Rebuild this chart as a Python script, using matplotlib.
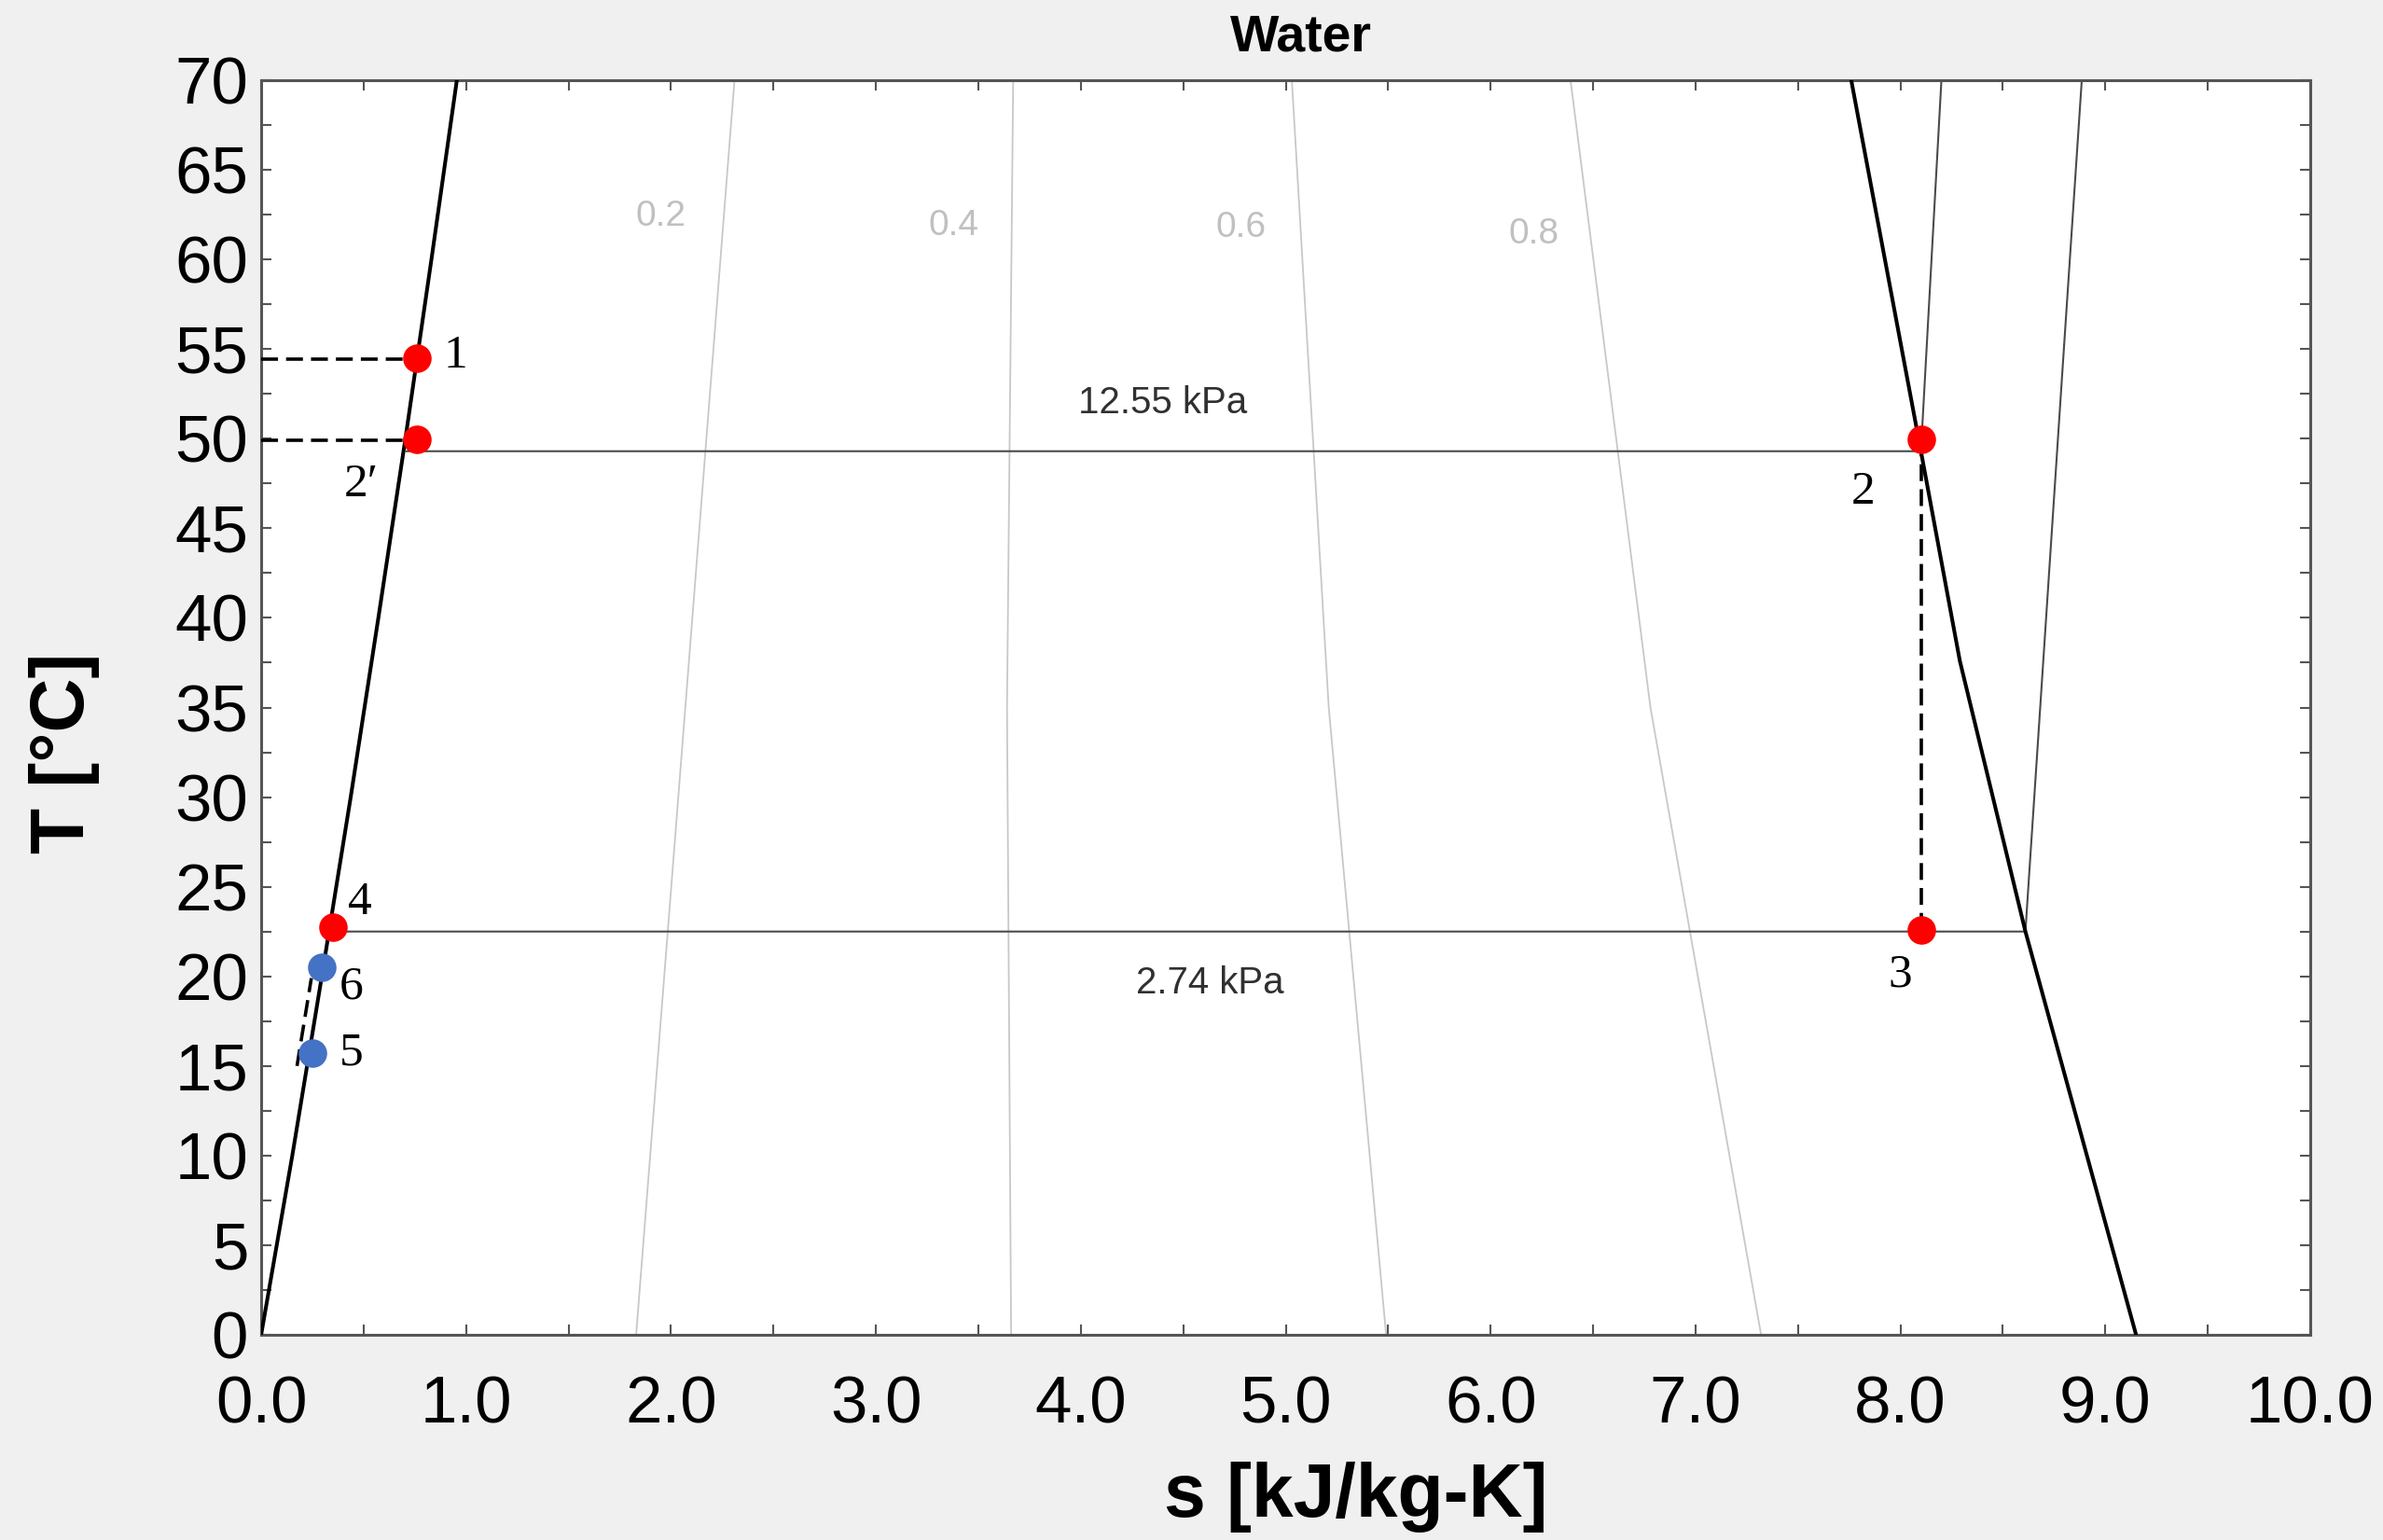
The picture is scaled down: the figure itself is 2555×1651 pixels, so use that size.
import numpy as np
import matplotlib
matplotlib.use("Agg")
import matplotlib.pyplot as plt
from matplotlib.ticker import MultipleLocator, FormatStrFormatter

plt.rcParams['font.family'] = ['Liberation Sans', 'DejaVu Sans']

# saturation dome
liq_T = [0, 10, 20, 30, 40, 50, 60, 70]
liq_s = [0.0, 0.152, 0.296, 0.437, 0.572, 0.704, 0.831, 0.955]
vap_T = [0, 22.5, 37.6, 49.3, 70]
vap_s = [9.15, 8.61, 8.29, 8.10, 7.76]

# isobars
hi_p_s = [0.71, 8.10, 8.20]
hi_p_T = [49.3, 49.3, 70]
lo_p_s = [0.33, 8.61, 8.63, 8.67, 8.79, 8.885]
lo_p_T = [22.5, 22.5, 26, 32.9, 53.7, 70]

# constant quality lines, at T = 0, 35, 70
qual_T = [0, 35, 70]
qual_lines = {
    '0.2': [1.83, 2.07, 2.31],
    '0.4': [3.66, 3.64, 3.67],
    '0.6': [5.49, 5.21, 5.03],
    '0.8': [7.32, 6.78, 6.39],
}
qual_label_pos = {'0.2': (1.95, 62.4), '0.4': (3.38, 61.9), '0.6': (4.78, 61.8), '0.8': (6.21, 61.4)}

# state points
pt_names = ['1', '2\u2032', '2', '3', '4', '5', '6']
pt_s = [0.758, 0.758, 8.10, 8.10, 0.352, 0.250, 0.296]
pt_T = [54.5, 49.95, 49.95, 22.6, 22.75, 15.7, 20.5]
pt_color = ['#ff0000'] * 5 + ['#4472c4'] * 2
lbl_s = [0.95, 0.49, 7.82, 8.00, 0.48, 0.44, 0.44]
lbl_T = [54.6, 47.4, 47.0, 20.1, 24.1, 15.7, 19.4]

# dashed helper lines
dash_lines = [
    ([0, 0.758], [54.45, 54.45]),
    ([0, 0.758], [49.9, 49.9]),
    ([8.10, 8.10], [49.95, 22.6]),
    ([0.175, 0.245], [15.0, 19.9]),
]

fig = plt.figure(figsize=(25.55, 16.51), dpi=100, facecolor='#f0f0f0')
ax = fig.add_axes([280 / 2555, 1 - 1431 / 1651, 2197 / 2555, 1345 / 1651])
ax.set_facecolor('white')

for name, s_vals in qual_lines.items():
    ax.plot(s_vals, qual_T, color='#c8c8c8', lw=1.3, zorder=1)
    x, y = qual_label_pos[name]
    ax.text(x, y, name, color='#c0c0c0', fontsize=28, ha='center', va='center')

ax.plot(hi_p_s, hi_p_T, color='#4a4a4a', lw=1.5, zorder=2)
ax.plot(lo_p_s, lo_p_T, color='#4a4a4a', lw=1.5, zorder=2)
ax.text(4.40, 52.0, '12.55 kPa', fontsize=29, color='#303030', ha='center', va='center')
ax.text(4.63, 19.6, '2.74 kPa', fontsize=29, color='#303030', ha='center', va='center')

ax.plot(liq_s, liq_T, color='black', lw=2.9, zorder=3)
ax.plot(vap_s, vap_T, color='black', lw=2.9, zorder=3)

for xs, ys in dash_lines:
    ax.plot(xs, ys, color='black', lw=2.6, dashes=(5, 2.4), zorder=4)

for s, T, c in zip(pt_s, pt_T, pt_color):
    ax.plot(s, T, 'o', color=c, markersize=22, markeredgewidth=0, zorder=5)
for name, s, T in zip(pt_names, lbl_s, lbl_T):
    ax.text(s, T, name, fontsize=37, ha='center', va='center',
            family=['Liberation Serif', 'DejaVu Serif'])

ax.set_xlim(0, 10)
ax.set_ylim(0, 70)
ax.xaxis.set_major_locator(MultipleLocator(1.0))
ax.xaxis.set_minor_locator(MultipleLocator(0.5))
ax.yaxis.set_major_locator(MultipleLocator(5))
ax.yaxis.set_minor_locator(MultipleLocator(2.5))
ax.xaxis.set_major_formatter(FormatStrFormatter('%.1f'))
ax.tick_params(which='both', direction='in', top=True, right=True,
               length=8, width=1.5, color='#555555')
ax.tick_params(axis='both', which='major', labelsize=51)
ax.tick_params(axis='x', which='major', pad=31)
ax.tick_params(axis='y', which='major', pad=10)
for sp in ax.spines.values():
    sp.set_color('#555555')
    sp.set_linewidth(2.2)

ax.set_xlabel('s [kJ/kg-K]', fontsize=58, fontweight='bold', va='center')
ax.xaxis.set_label_coords(0.534, -0.129)
ax.set_ylabel('T [\u00b0C]', fontsize=58, fontweight='bold', va='center')
ax.yaxis.set_label_coords(-0.096, 0.464)
ax.set_title('Water', fontsize=40, fontweight='bold', x=0.5075, y=1.0335, va='center', pad=0)

fig.savefig('out.png', dpi=100, facecolor=fig.get_facecolor())
